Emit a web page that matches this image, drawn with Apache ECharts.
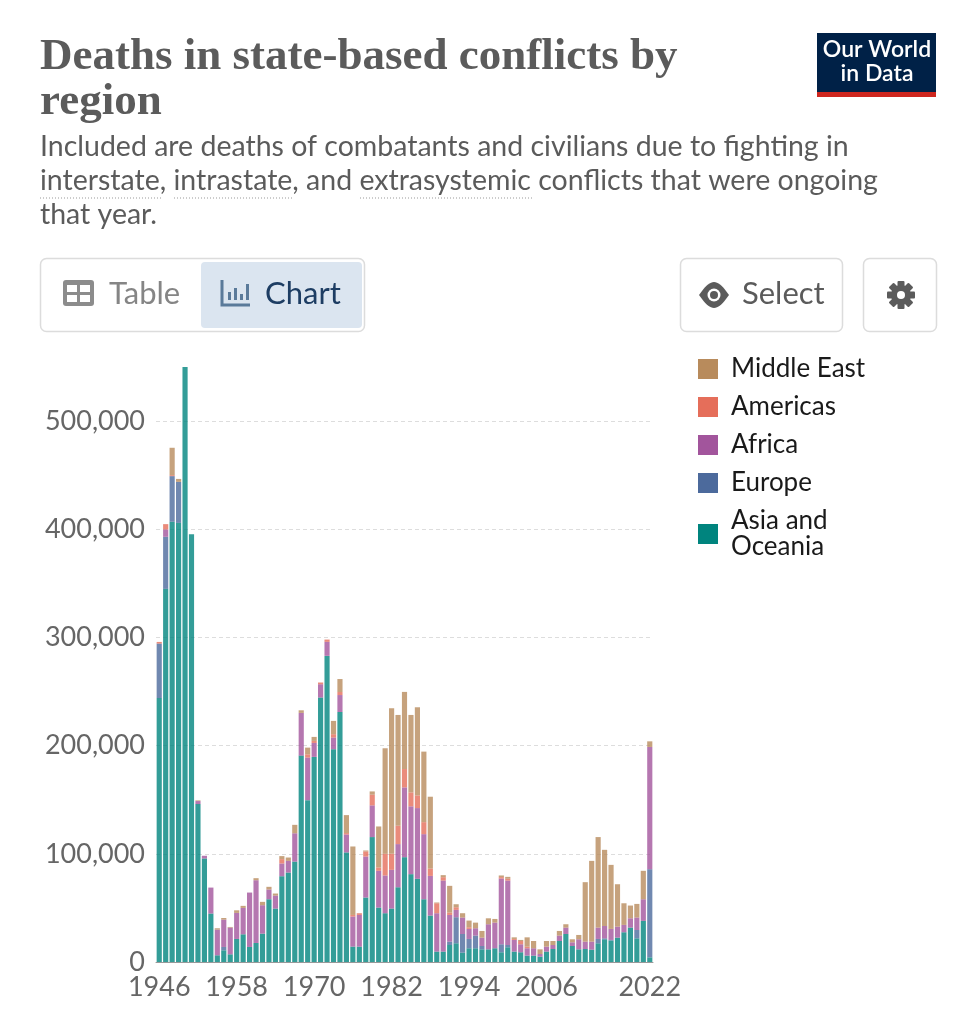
<!DOCTYPE html>
<html>
<head>
<meta charset="utf-8">
<title>Deaths in state-based conflicts by region</title>
<script src="https://cdn.jsdelivr.net/npm/echarts@6/dist/echarts.min.js"></script>
<style>
  html, body { margin: 0; padding: 0; background: #fff; }
  #main { width: 976px; height: 1024px; }
</style>
</head>
<body>
<div id="main"></div>
<script>
// years 1946..2022
var years = [];
for (var y = 1946; y <= 2022; y++) { years.push(String(y)); }

// deaths per region
var asiaOceania = [
    244000, 345000, 407000, 406000, 550000, 395500, 146000, 95700, 44800, 6200,
    10800, 7100, 21300, 25600, 13900, 17600, 26200, 58000, 49400, 79300,
    82700, 92800, 190800, 149600, 189600, 244500, 283000, 196700, 231100, 101300,
    14200, 14200, 59600, 115500, 50300, 45100, 49400, 69100, 96900, 81200,
    76900, 58000, 42900, 9600, 9600, 15700, 17300, 8600, 12700, 12700,
    11700, 11700, 12700, 9000, 13600, 9600, 9000, 5900, 5900, 4900,
    9600, 12000, 19400, 25900, 14800, 11700, 12000, 11400, 17300, 21000,
    19800, 22500, 27500, 31800, 21900, 38000, 4300
];
var europe = [
    50400, 48100, 42200, 37900, 0, 0, 0, 0, 0, 0,
    3100, 0, 0, 0, 0, 0, 0, 0, 0, 0,
    0, 0, 0, 0, 0, 0, 0, 0, 0, 0,
    0, 0, 0, 0, 0, 0, 0, 0, 0, 0,
    0, 0, 0, 0, 0, 3100, 24100, 17300, 8600, 11700,
    3100, 0, 0, 7400, 2100, 0, 0, 0, 0, 0,
    0, 0, 0, 0, 0, 0, 0, 0, 4000, 900,
    600, 0, 0, 0, 7700, 0, 81500
];
var africa = [
    0, 6800, 0, 0, 0, 0, 2800, 2500, 24000, 23700,
    25300, 24700, 24100, 24400, 50300, 58000, 26300, 9000, 12000, 11800,
    10800, 26200, 39500, 39400, 12900, 12300, 13000, 10800, 15700, 16600,
    27800, 29300, 37900, 29300, 34000, 34900, 35800, 39900, 64500, 62700,
    65400, 60200, 36700, 35500, 65700, 24700, 6800, 15200, 9300, 6800,
    7700, 23200, 23700, 60800, 59600, 10800, 7400, 6800, 6800, 2500,
    4600, 3700, 5000, 5900, 3400, 9300, 6800, 7400, 10500, 11400,
    10200, 10200, 6800, 8600, 11500, 20000, 113000
];
var americas = [
    1500, 4900, 900, 0, 0, 0, 0, 0, 0, 0,
    0, 0, 0, 0, 0, 0, 0, 0, 0, 4000,
    0, 0, 0, 3000, 1900, 1600, 2100, 3100, 2800, 1300,
    1500, 1600, 4700, 9900, 3100, 20000, 14800, 17000, 17000, 12900,
    11700, 11100, 6800, 9200, 3100, 2200, 2400, 0, 1500, 0,
    0, 0, 0, 1300, 1700, 900, 3000, 1500, 0, 0,
    0, 0, 0, 0, 0, 0, 0, 0, 0, 0,
    0, 0, 0, 0, 0, 0, 0
];
var middleEast = [
    0, 0, 25300, 2700, 0, 0, 600, 0, 0, 1300,
    1500, 600, 2400, 1900, 0, 1900, 3100, 2500, 1900, 2800,
    3100, 7800, 2400, 6200, 3700, 0, 0, 12300, 12000, 16600,
    63300, 0, 900, 3000, 37900, 97600, 134600, 102400, 71300, 71600,
    81500, 65200, 66400, 700, 1900, 24700, 2800, 4000, 6200, 5200,
    6200, 5500, 3400, 1500, 1700, 1500, 1000, 8600, 6700, 4300,
    5200, 3700, 4300, 3100, 2800, 4000, 55000, 74700, 83700, 70400,
    59200, 39200, 20000, 11800, 12600, 26300, 5200
];

var shownYears = ["1946", "1958", "1970", "1982", "1994", "2006", "2022"];
var yTicks = [0, 100000, 200000, 300000, 400000, 500000];

var colors = {
    "Middle East": "#b88b5c",
    "Americas": "#e56e5a",
    "Africa": "#a2559c",
    "Europe": "#4c6a9c",
    "Asia and Oceania": "#00847e"
};

var stackOrder = [
    ["Asia and Oceania", asiaOceania],
    ["Europe", europe],
    ["Africa", africa],
    ["Americas", americas],
    ["Middle East", middleEast]
];

var series = [];
for (var i = 0; i < stackOrder.length; i++) {
    series.push({
        name: stackOrder[i][0],
        type: "bar",
        stack: "total",
        barCategoryGap: "20%",
        data: stackOrder[i][1],
        itemStyle: { color: colors[stackOrder[i][0]], opacity: 0.8 },
        emphasis: { disabled: true }
    });
}

var legendNames = ["Middle East", "Americas", "Africa", "Europe", "Asia and Oceania"];
var legendData = [];
for (var j = 0; j < legendNames.length; j++) {
    legendData.push({ name: legendNames[j], itemStyle: { color: colors[legendNames[j]], opacity: 1 } });
}

function showYear(index, value) {
    return shownYears.indexOf(value) !== -1;
}

var grey = "#5b5b5b";

// gear icon: teeth round a disc
var gear = [];
for (var k = 0; k < 4; k++) {
    gear.push({ type: "rect", x: 901, y: 295, rotation: k * Math.PI / 4,
        shape: { x: -3.5, y: -14, width: 7, height: 28, r: 1 }, style: { fill: grey } });
}
gear.push({ type: "circle", shape: { cx: 901, cy: 295, r: 10 }, style: { fill: grey } });
gear.push({ type: "circle", shape: { cx: 901, cy: 295, r: 4 }, style: { fill: "#fff" } });

// eye outline for the Select button
var eyePts = [];
for (var a = 0; a <= 20; a++) {
    var t = a / 20;
    eyePts.push([699 + 30 * t, 295 - 13 * Math.sin(Math.PI * t)]);
}
for (var b = 19; b > 0; b--) {
    var s = b / 20;
    eyePts.push([699 + 30 * s, 295 + 13 * Math.sin(Math.PI * s)]);
}

var graphics = [
    // headline
    { type: "text", left: 40, top: 35, style: {
        text: "Deaths in state-based conflicts by\nregion",
        font: "bold 45px 'Liberation Serif', serif", fill: grey, lineHeight: 45 } },
    // subtitle
    { type: "text", left: 40, top: 130, style: {
        text: "Included are deaths of combatants and civilians due to fighting in\ninterstate, intrastate, and extrasystemic conflicts that were ongoing\nthat year.",
        font: "28.5px Lato, sans-serif", fill: grey, lineHeight: 34 } },
    { type: "line", shape: { x1: 40, y1: 198, x2: 161, y2: 198 }, style: { stroke: "#999", lineWidth: 1, lineDash: [1, 2] } },
    { type: "line", shape: { x1: 174, y1: 198, x2: 293, y2: 198 }, style: { stroke: "#999", lineWidth: 1, lineDash: [1, 2] } },
    { type: "line", shape: { x1: 360, y1: 198, x2: 532, y2: 198 }, style: { stroke: "#999", lineWidth: 1, lineDash: [1, 2] } },
    // logo
    { type: "rect", shape: { x: 817, y: 33, width: 119, height: 64 }, style: { fill: "#002147" } },
    { type: "rect", shape: { x: 817, y: 92, width: 119, height: 5 }, style: { fill: "#ce261e" } },
    { type: "text", x: 877, y: 50, style: { text: "Our World", font: "600 23px Lato, sans-serif", fill: "#fff", align: "center", verticalAlign: "middle" } },
    { type: "text", x: 877, y: 74, style: { text: "in Data", font: "600 23px Lato, sans-serif", fill: "#fff", align: "center", verticalAlign: "middle" } },
    // table / chart toggle
    { type: "rect", shape: { x: 40.5, y: 258.5, width: 324, height: 73, r: 6 }, style: { fill: "#fff", stroke: "#dcdcdc", lineWidth: 1.5 } },
    { type: "rect", shape: { x: 201, y: 262, width: 161, height: 66, r: 4 }, style: { fill: "#dbe5f0" } },
    { type: "rect", shape: { x: 63, y: 280, width: 31, height: 26, r: 3 }, style: { fill: "#8c8c8c" } },
    { type: "rect", shape: { x: 67, y: 285, width: 10, height: 7 }, style: { fill: "#fff" } },
    { type: "rect", shape: { x: 80, y: 285, width: 10, height: 7 }, style: { fill: "#fff" } },
    { type: "rect", shape: { x: 67, y: 295, width: 10, height: 7 }, style: { fill: "#fff" } },
    { type: "rect", shape: { x: 80, y: 295, width: 10, height: 7 }, style: { fill: "#fff" } },
    { type: "text", x: 109, y: 294, style: { text: "Table", font: "31px Lato, sans-serif", fill: "#858585", verticalAlign: "middle" } },
    { type: "polyline", shape: { points: [[222, 280], [222, 305], [250, 305]] }, style: { stroke: "#5a7a9a", lineWidth: 3, fill: null } },
    { type: "rect", shape: { x: 228, y: 292, width: 3, height: 8 }, style: { fill: "#5a7a9a" } },
    { type: "rect", shape: { x: 234, y: 288, width: 3, height: 12 }, style: { fill: "#5a7a9a" } },
    { type: "rect", shape: { x: 240, y: 294, width: 3, height: 6 }, style: { fill: "#5a7a9a" } },
    { type: "rect", shape: { x: 246, y: 284, width: 3, height: 16 }, style: { fill: "#5a7a9a" } },
    { type: "text", x: 265, y: 294, style: { text: "Chart", font: "31px Lato, sans-serif", fill: "#1d3d63", verticalAlign: "middle" } },
    // select / settings
    { type: "rect", shape: { x: 680.5, y: 258.5, width: 162, height: 73, r: 6 }, style: { fill: "#fff", stroke: "#dcdcdc", lineWidth: 1.5 } },
    { type: "polygon", shape: { points: eyePts }, style: { fill: grey } },
    { type: "circle", shape: { cx: 714, cy: 295, r: 6.5 }, style: { fill: "#fff" } },
    { type: "circle", shape: { cx: 714, cy: 295, r: 4 }, style: { fill: grey } },
    { type: "text", x: 742, y: 294, style: { text: "Select", font: "31px Lato, sans-serif", fill: grey, verticalAlign: "middle" } },
    { type: "rect", shape: { x: 863.5, y: 258.5, width: 73, height: 73, r: 6 }, style: { fill: "#fff", stroke: "#dcdcdc", lineWidth: 1.5 } }
].concat(gear);

var chart = echarts.init(document.getElementById("main"));
chart.setOption({
    animation: false,
    textStyle: { fontFamily: "Lato, sans-serif" },
    graphic: graphics,
    legend: {
        orient: "vertical",
        left: 698,
        top: 356,
        padding: 0,
        data: legendData,
        icon: "rect",
        itemWidth: 20,
        itemHeight: 20,
        itemGap: 12,
        selectedMode: false,
        formatter: function(name) {
            return name === "Asia and Oceania" ? "Asia and\nOceania" : name;
        },
        textStyle: { fontSize: 26, color: "#1a1a1a", lineHeight: 26, padding: [0, 0, 0, 8] }
    },
    grid: { left: 156, width: 497, top: 366, bottom: 62, containLabel: false },
    xAxis: {
        type: "category",
        data: years,
        axisLine: { lineStyle: { color: "#999", width: 1 } },
        axisTick: { alignWithLabel: true, interval: showYear, length: 9, lineStyle: { color: "#666", width: 2 } },
        axisLabel: { interval: showYear, fontSize: 27, color: "#666", margin: 12 }
    },
    yAxis: {
        type: "value",
        min: yTicks[0],
        max: 551000,
        interval: 100000,
        axisLine: { show: false },
        axisTick: { show: false },
        axisLabel: {
            fontSize: 27, color: "#666", margin: 11, showMaxLabel: false,
            formatter: function(v) { return v.toLocaleString("en-US"); }
        },
        splitLine: { showMaxLine: false, lineStyle: { color: "#dddddd", type: [4, 3], width: 1 } }
    },
    series: series
});
</script>
</body>
</html>
